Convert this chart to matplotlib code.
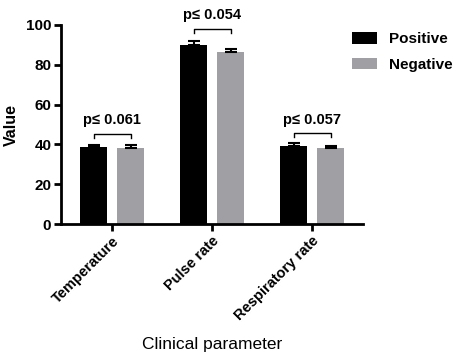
import numpy as np
from matplotlib import pyplot as plt

plt.rcParams['font.family'] = ['Liberation Sans', 'DejaVu Sans']

categories = ["Temperature", "Pulse rate", "Respiratory rate"]
positive = [38.9, 89.8, 39.2]
positive_err = [0.7, 2.0, 1.4]
negative = [38.4, 86.3, 38.2]
negative_err = [1.3, 1.6, 1.2]
p_labels = ["p\u2264 0.061", "p\u2264 0.054", "p\u2264 0.057"]
bracket_y = [45.4, 98.0, 45.6]

fig = plt.figure(figsize=(4.57, 3.62), dpi=100)
ax = fig.add_axes([61 / 457, 1 - 224 / 362, (363 - 61) / 457, (224 - 25) / 362])

x = np.arange(len(categories))
w = 0.27
off = 0.185
ax.bar(x - off, positive, w, color='black', label='Positive', zorder=2)
ax.bar(x + off, negative, w, color='#a0a0a4', label='Negative', zorder=2)
ax.errorbar(x - off, positive, yerr=[np.zeros(3), positive_err], fmt='none',
            ecolor='black', elinewidth=1.5, capsize=4.5, capthick=1.5, zorder=3)
ax.errorbar(x + off, negative, yerr=[np.zeros(3), negative_err], fmt='none',
            ecolor='black', elinewidth=1.5, capsize=4.5, capthick=1.5, zorder=3)

# significance brackets
for i in range(len(categories)):
    y = bracket_y[i]
    ax.plot([x[i] - off, x[i] - off, x[i] + off, x[i] + off], [y - 2, y, y, y - 2],
            color='black', lw=1, clip_on=False)
    ax.text(x[i], y + 3.3, p_labels[i], ha='center', va='bottom',
            fontsize=10.5, fontweight='bold')

ax.set_xlim(-0.51, 2.51)
ax.set_ylim(0, 100)
ax.set_yticks([0, 20, 40, 60, 80, 100])
ax.set_xticks(x)
ax.set_xticklabels(categories, rotation=45, ha='right', rotation_mode='anchor',
                   fontweight='bold', fontsize=10.5)
for lab in ax.get_yticklabels():
    lab.set_fontweight('bold')
    lab.set_fontsize(11)

for s in ['top', 'right']:
    ax.spines[s].set_visible(False)
for s in ['left', 'bottom']:
    ax.spines[s].set_linewidth(2)
ax.tick_params(width=2, length=5, pad=2)

ax.set_ylabel('Value', fontsize=11.5, fontweight='bold')
ax.yaxis.set_label_coords(-0.138, 0.5)
ax.set_xlabel('Clinical parameter', fontsize=12.5)
ax.xaxis.set_label_coords(0.5, -0.57)

ax.legend(loc='upper left', bbox_to_anchor=(352 / 457, 1 - 32 / 362),
          bbox_transform=fig.transFigure, frameon=False,
          prop={'weight': 'bold', 'size': 11}, handlelength=1.65,
          handleheight=0.8, handletextpad=0.75, labelspacing=0.75,
          borderpad=0, borderaxespad=0)

fig.savefig('out.png', dpi=100)
